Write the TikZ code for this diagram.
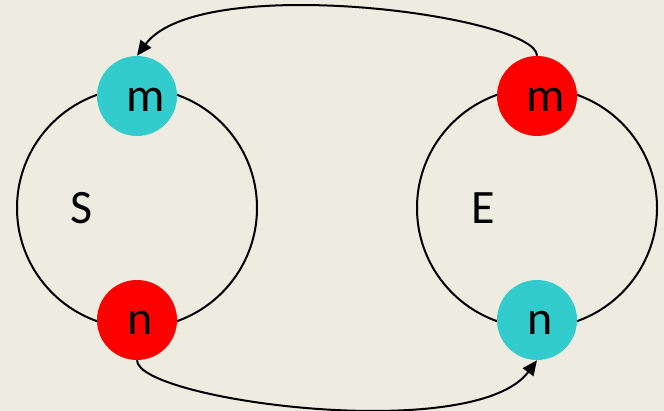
\documentclass[tikz,border=0pt]{standalone}
\usepackage{fontspec}
\setmainfont{Carlito}
\usetikzlibrary{arrows.meta}
\definecolor{bgtan}{HTML}{EEECE1}
\definecolor{tealc}{HTML}{33CCCC}
\definecolor{redc}{HTML}{FF0000}
\begin{document}
\begin{tikzpicture}[x=1pt,y=1pt,
  ring/.style={circle,draw=black,line width=2pt,minimum size=240pt,inner sep=0pt},
  dot/.style={circle,minimum size=80pt,inner sep=0pt},
  lbl/.style={inner sep=0pt,font=\fontsize{48}{58}\selectfont},
  link/.style={line width=2pt,-{Triangle[length=15pt,width=13pt]}}]
\fill[bgtan] (0,0) rectangle (664,411);
\useasboundingbox (0,0) rectangle (664,411);
\node[ring] (SL) at (137,203) {};
\node[ring] (ER) at (537,203) {};
\node[dot,fill=tealc] (LM) at (137,315) {};
\node[dot,fill=redc]  (LN) at (137,91) {};
\node[dot,fill=redc]  (RM) at (537,315) {};
\node[dot,fill=tealc] (RN) at (537,91) {};
\node[lbl] (tLM) at ([shift={(9,-4)}]LM.center) {m};
\node[lbl] (tLN) at ([shift={(3,-2.5)}]LN.center) {n};
\node[lbl] (tRM) at ([shift={(9,-4)}]RM.center) {m};
\node[lbl] (tRN) at ([shift={(3,-2.5)}]RN.center) {n};
\node[lbl] (tS) at (82,203) {S};
\node[lbl] (tE) at (483,203) {E};
\draw[link] (RM.north) .. controls +(0,40) and +(63,85) .. (LM.north);
\draw[link] (LN.south) .. controls +(0,-40) and +(-63,-85) .. (RN.south);
\end{tikzpicture}
\end{document}
